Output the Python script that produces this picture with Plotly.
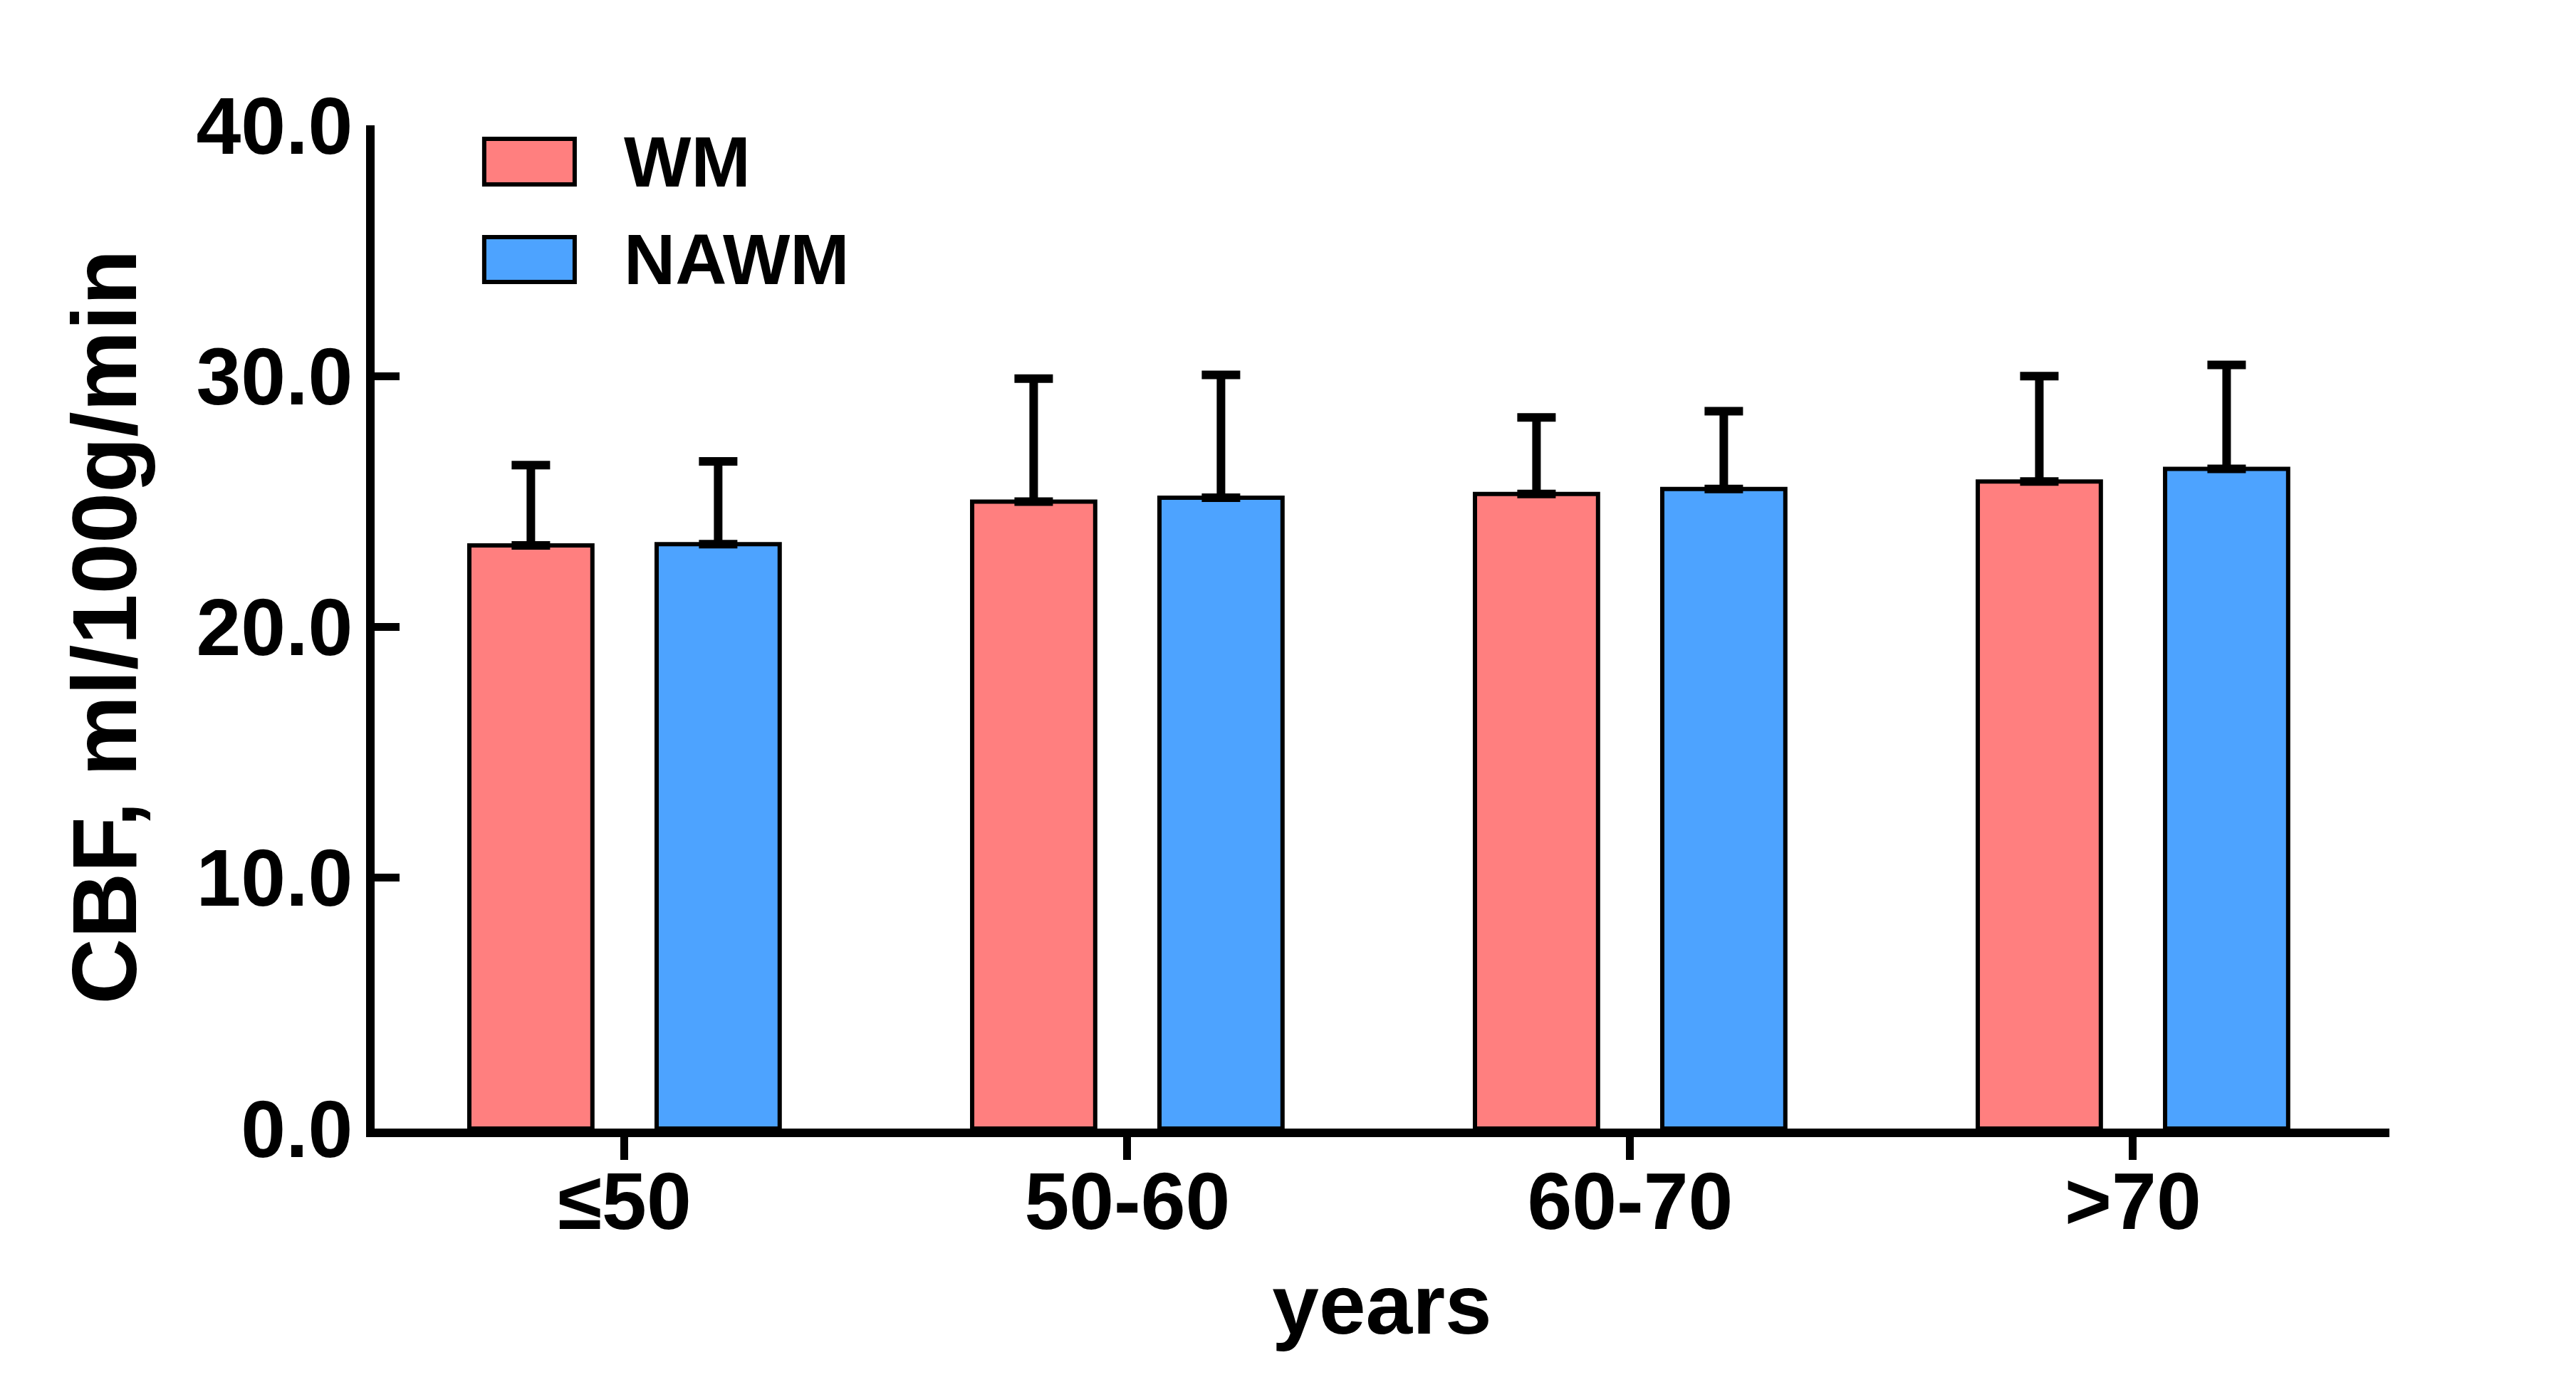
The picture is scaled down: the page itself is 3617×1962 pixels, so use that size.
import plotly.graph_objects as go

categories = ["≤50", "50-60", "60-70", ">70"]
wm_mean = [23.25, 25.0, 25.3, 25.8]
wm_sd = [3.2, 4.9, 3.05, 4.2]
nawm_mean = [23.3, 25.15, 25.5, 26.3]
nawm_sd = [3.3, 4.9, 3.1, 4.15]
series_names = ["WM", "NAWM"]
y_ticks = [0, 10, 20, 30, 40]
y_tick_labels = ["0.0", "10.0", "20.0", "30.0", "40.0"]

colors = ["#FF7F7F", "#4DA3FF"]
FONT = "Liberation Sans"

fig = go.Figure()
for name, mean, sd, col in [(series_names[0], wm_mean, wm_sd, colors[0]),
                            (series_names[1], nawm_mean, nawm_sd, colors[1])]:
    fig.add_trace(go.Bar(
        x=categories, y=mean, name=name,
        marker=dict(color=col, line=dict(color="black", width=6)),
        error_y=dict(type="data", symmetric=False, array=sd,
                     arrayminus=[0] * len(sd), color="black",
                     thickness=12, width=27),
        showlegend=False,
    ))

# custom legend (large boxes like the reference)
legend_items = [(series_names[0], colors[0], 0.9411, 0.9865),
                (series_names[1], colors[1], 0.8439, 0.8886)]
for name, col, y0, y1 in legend_items:
    fig.add_shape(type="rect", xref="paper", yref="paper",
                  x0=0.0544, x1=0.0993, y0=y0, y1=y1,
                  fillcolor=col, line=dict(color="black", width=6))
    fig.add_annotation(xref="paper", yref="paper", x=0.1230, y=(y0 + y1) / 2,
                       text="<b>%s</b>" % name, showarrow=False,
                       xanchor="left", yanchor="middle",
                       font=dict(family=FONT, size=100, color="black"))

fig.update_layout(
    width=3617, height=1962,
    margin=dict(l=518, r=270, t=168, b=385, autoexpand=False),
    plot_bgcolor="white", paper_bgcolor="white",
    barmode="group", bargap=0.255, bargroupgap=0.343,
    font=dict(family=FONT, color="black"),
)
fig.update_xaxes(
    type="category", range=[-0.497, 3.51],
    showline=True, linecolor="black", linewidth=12,
    ticks="outside", ticklen=32, tickwidth=11, tickcolor="black",
    tickfont=dict(family=FONT, size=113, color="black"),
    tickprefix="<b>", ticksuffix="</b>",
    ticklabelstandoff=-39,
    title=dict(text="<b>years</b>", font=dict(family=FONT, size=118, color="black"),
               standoff=47),
    showgrid=False, zeroline=False, automargin=False,
)
fig.update_yaxes(
    range=[0, 40], tickvals=y_ticks, ticktext=["<b>%s</b>" % t for t in y_tick_labels],
    showline=True, linecolor="black", linewidth=12,
    ticks="inside", ticklen=35, tickwidth=11, tickcolor="black",
    tickfont=dict(family=FONT, size=113, color="black"),
    ticklabelstandoff=-4,
    title=dict(text="<b>CBF, ml/100g/min</b>", font=dict(family=FONT, size=128, color="black"),
               standoff=46),
    showgrid=False, zeroline=False, automargin=False,
)

fig.write_html("out.html")
